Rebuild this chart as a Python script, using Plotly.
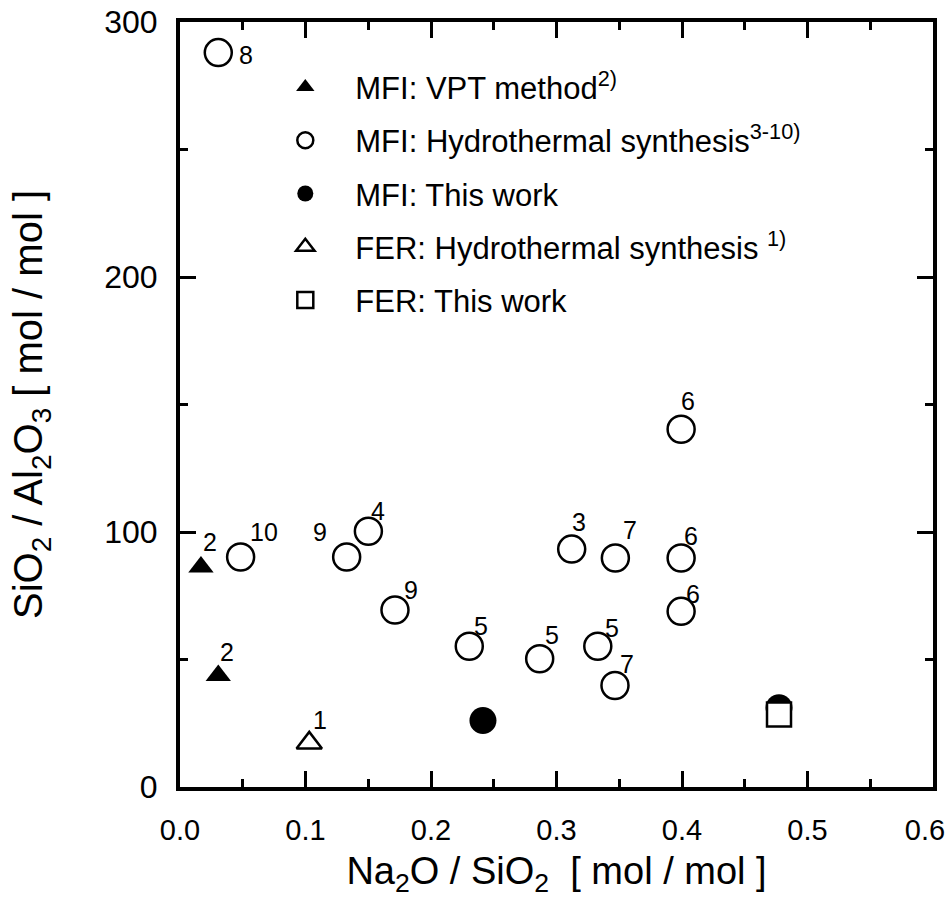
import plotly.graph_objects as go

# ---- data ----
vpt_x = [0.0167, 0.0305]
vpt_y = [86.3, 43.7]
vpt_lab = ["2", "2"]

hyd_x = [0.0305, 0.0483, 0.1328, 0.1501, 0.1713, 0.2305, 0.2866, 0.3329, 0.3466, 0.3121, 0.3469, 0.3993, 0.3993, 0.3993]
hyd_y = [288, 90.2, 90.2, 100.3, 69.4, 55.2, 50.3, 55.2, 39.8, 93.3, 89.8, 140.3, 89.8, 68.9]
hyd_lab = ["8", "10", "9", "4", "9", "5", "5", "5", "7", "3", "7", "6", "6", "6"]

mfi_x = [0.2414, 0.4773]
mfi_y = [26.1, 31.1]

ferh_x = [0.1030]
ferh_y = [17.3]
ferh_lab = ["1"]

fer_x = [0.4773]
fer_y = [28.4]

x_ticks = [0.0, 0.1, 0.2, 0.3, 0.4, 0.5, 0.6]
x_ticktext = ["0.0", "0.1", "0.2", "0.3", "0.4", "0.5", "0.6\u00a0\u00a0"]
x_minor = [0.05, 0.15, 0.25, 0.35, 0.45, 0.55]
y_ticks = [0, 100, 200, 300]
y_minor = [50, 150, 250]

# label pixel offsets (dx right, dy down) -- layout only
vpt_off = [(9, -25), (9, -24)]
hyd_off = [(28, 2), (23, -25), (-27, -25), (10, -20), (16, -20), (12, -20), (12, -24),
           (14, -18), (12, -22), (7, -27), (15, -28), (7, -28), (10, -22), (12, -17)]
ferh_off = [(11, -23)]

FONT = "Liberation Sans, Arial, Helvetica, sans-serif"
LW = 2.5

fig = go.Figure()
fig.add_trace(go.Scatter(x=vpt_x, y=vpt_y, mode="markers", name="MFI: VPT method<sup>2)</sup>",
                         legendgroup="a",
                         marker=dict(symbol="triangle-up", size=22, color="black", line=dict(width=0))))
fig.add_trace(go.Scatter(x=hyd_x, y=hyd_y, mode="markers", name="MFI: Hydrothermal synthesis<sup>3-10)</sup>",
                         legendgroup="b",
                         marker=dict(symbol="circle-open", size=27, color="black", line=dict(width=LW))))
fig.add_trace(go.Scatter(x=mfi_x, y=mfi_y, mode="markers", name="MFI: This work",
                         legendgroup="c",
                         marker=dict(symbol="circle", size=27, color="black", line=dict(width=0))))
fig.add_trace(go.Scatter(x=ferh_x, y=ferh_y, mode="markers", name="FER: Hydrothermal synthesis <sup>1)</sup>",
                         legendgroup="d",
                         marker=dict(symbol="triangle-up", size=22, color="white", line=dict(width=LW, color="black"))))
fig.add_trace(go.Scatter(x=fer_x, y=fer_y, mode="markers", name="FER: This work",
                         legendgroup="e",
                         marker=dict(symbol="square", size=24, color="white", line=dict(width=LW, color="black"))))

annots = []
for xs, ys, labs, offs in [(vpt_x, vpt_y, vpt_lab, vpt_off), (hyd_x, hyd_y, hyd_lab, hyd_off),
                           (ferh_x, ferh_y, ferh_lab, ferh_off)]:
    for xv, yv, lab, (dx, dy) in zip(xs, ys, labs, offs):
        annots.append(dict(x=xv, y=yv, xref="x", yref="y", text=lab, showarrow=False,
                           xshift=dx, yshift=-dy, font=dict(size=25, color="black", family=FONT)))

axis_common = dict(showline=True, linewidth=4, linecolor="black", mirror="allticks",
                   ticks="inside", ticklen=16, tickwidth=2.5, tickcolor="black",
                   showgrid=False, zeroline=False, tickmode="array",
                   ticklabeloverflow="allow", automargin=False)

fig.update_layout(
    width=948, height=915,
    margin=dict(l=180, r=15, t=22, b=128, autoexpand=False),
    paper_bgcolor="white", plot_bgcolor="white",
    font=dict(family=FONT, color="black"),
    showlegend=True,
    legend=dict(x=0.10, y=0.950, xanchor="left", yanchor="top",
                font=dict(size=31, family=FONT, color="black"),
                bgcolor="rgba(0,0,0,0)", itemwidth=90, tracegroupgap=10,
                traceorder="grouped"),
    xaxis=dict(range=[0, 0.6], tickvals=x_ticks, ticktext=x_ticktext,
               tickfont=dict(size=29, family=FONT),
               ticklabelstandoff=14,
               minor=dict(tickmode="array", tickvals=x_minor, ticks="inside", ticklen=8,
                          tickwidth=2.5, tickcolor="black"),
               title=dict(text="Na<sub>2</sub>O / SiO<sub>2</sub>&nbsp; [ mol / mol ]",
                          font=dict(size=38, family=FONT), standoff=14),
               **axis_common),
    yaxis=dict(range=[0, 300], tickvals=y_ticks,
               tickfont=dict(size=32, family=FONT),
               ticklabelstandoff=12,
               minor=dict(tickmode="array", tickvals=y_minor, ticks="inside", ticklen=8,
                          tickwidth=2.5, tickcolor="black"),
               title=dict(text="SiO<sub>2</sub> / Al<sub>2</sub>O<sub>3</sub> [ mol / mol ]",
                          font=dict(size=40, family=FONT), standoff=50),
               **axis_common),
    annotations=annots,
)

fig.write_html("out.html")
